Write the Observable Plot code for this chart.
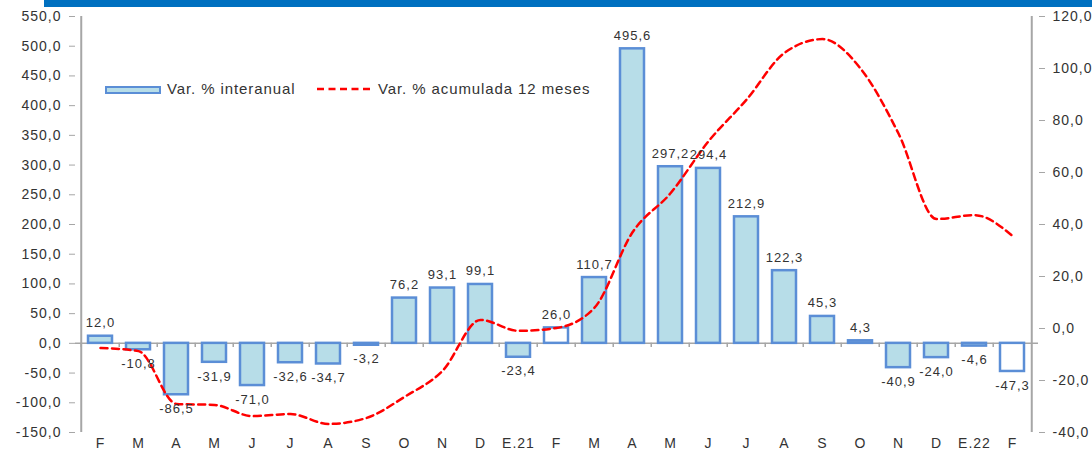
<!DOCTYPE html>
<html>
<head>
<meta charset="utf-8">
<script src="https://cdn.jsdelivr.net/npm/d3@7"></script>
<script src="https://cdn.jsdelivr.net/npm/@observablehq/plot@0.6"></script>
<style>
  body { margin: 0; background: #ffffff; }
  #wrap { position: relative; width: 1092px; height: 452px; overflow: hidden;
          font-family: "Liberation Sans", Arial, sans-serif; color: #333; }
  #topbar { position: absolute; left: 44px; top: 0; width: 1048px; height: 7px; background: #0070c0; }
  .lg { position: absolute; font-size: 15px; letter-spacing: 0.9px; line-height: 20px; top: 79px; white-space: nowrap; color: #333; }
  #sw1 { position: absolute; left: 105px; top: 86px; width: 52px; height: 4px; background: #b7dde8; border: 2px solid #5b8ed6; }
  #sw2 { position: absolute; left: 316px; top: 85px; }
  #chart { position: absolute; left: 0; top: 0; }
</style>
</head>
<body>
<div id="wrap">
  <div id="chart"></div>
  <div id="topbar"></div>
  <div id="sw1"></div>
  <div class="lg" style="left:167px">Var. % interanual</div>
  <svg id="sw2" width="56" height="8"><line x1="1" y1="4" x2="55" y2="4" stroke="#ff0000" stroke-width="2.5" stroke-dasharray="7,4.5"/></svg>
  <div class="lg" style="left:378px">Var. % acumulada 12 meses</div>
</div>
<script>
// ---- data ----
const months = ["F","M","A","M","J","J","A","S","O","N","D","E.21","F","M","A","M","J","J","A","S","O","N","D","E.22","F"];
const interanual = [12.0, -10.8, -86.5, -31.9, -71.0, -32.6, -34.7, -3.2, 76.2, 93.1, 99.1, -23.4, 26.0, 110.7, 495.6, 297.2, 294.4, 212.9, 122.3, 45.3, 4.3, -40.9, -24.0, -4.6, -47.3];
const acumulada12 = [-7.5, -8.7, -29.0, -29.4, -33.7, -32.9, -36.7, -34.4, -26.3, -16.3, 3.3, -0.9, 0.2, 8.0, 37.0, 52.0, 72.0, 88.0, 106.0, 111.3, 100.0, 75.0, 42.1, 43.6, 35.6];
const leftTicks = [-150, -100, -50, 0, 50, 100, 150, 200, 250, 300, 350, 400, 450, 500, 550];
const rightTicks = [-40, -20, 0, 20, 40, 60, 80, 100, 120];

// ---- layout / helpers ----
const W = 1092, H = 452, ml = 75, mr = 54, mt = 16, mb = 20;
const step = (W - ml - mr) / months.length;
const leftDom = [-150, 550], rightDom = [-40, 120];
const k = (leftDom[1] - leftDom[0]) / (rightDom[1] - rightDom[0]);
const toLeft = v => leftDom[0] + (v - rightDom[0]) * k;
const fromLeft = y => (y - leftDom[0]) / k + rightDom[0];
const fmt = v => { let r = Math.round(v * 10) / 10; if (Math.abs(r) < 1e-9) r = 0; return r.toFixed(1).replace(".", ","); };
const idx = months.map((_, i) => i);
const hollow = new Set([12, 24]);
const barData = idx.map(i => ({i, v: interanual[i]}));
const lineData = idx.map(i => ({i, v: toLeft(acumulada12[i])}));
const grey = "#a6a6a6";
const barStroke = "#5b8ed6";

const plot = Plot.plot({
  width: W, height: H,
  marginLeft: ml, marginRight: mr, marginTop: mt, marginBottom: mb,
  style: {fontFamily: "'Liberation Sans', Arial, sans-serif", fontSize: "13px", color: "#333", letterSpacing: "1px", background: "transparent", overflow: "visible"},
  x: {type: "band", domain: idx, paddingInner: 0.36, paddingOuter: 0.18},
  y: {domain: leftDom},
  marks: [
    Plot.ruleY([0], {stroke: grey, strokeWidth: 1.5}),
    Plot.ruleX(idx, {x: d => d, y1: 0, y2: -7, dx: -step / 2, stroke: grey, strokeWidth: 1.5}),
    Plot.ruleX([idx[0]], {x: d => d, y1: leftDom[0], y2: leftDom[1], dx: -step / 2, stroke: grey, strokeWidth: 2}),
    Plot.ruleX([idx[idx.length - 1]], {x: d => d, y1: leftDom[0], y2: leftDom[1], dx: step / 2, stroke: grey, strokeWidth: 2}),
    Plot.barY(barData.filter(d => !hollow.has(d.i)), {x: "i", y: "v", fill: "#b7dde8", stroke: barStroke, strokeWidth: 2.5}),
    Plot.barY(barData.filter(d => hollow.has(d.i)), {x: "i", y: "v", fill: "#ffffff", stroke: barStroke, strokeWidth: 2.5}),
    Plot.line(lineData, {x: "i", y: "v", stroke: "#ff0000", strokeWidth: 2.5, strokeDasharray: "7,4.5", curve: "monotone-x"}),
    Plot.text(barData.filter(d => d.v >= 0), {x: "i", y: "v", text: d => fmt(d.v), lineAnchor: "bottom", dy: -9, fontSize: 13, fill: "#333"}),
    Plot.text(barData.filter(d => d.v < 0), {x: "i", y: "v", text: d => fmt(d.v), lineAnchor: "top", dy: 9, fontSize: 13, fill: "#333"}),
    Plot.axisX({anchor: "bottom", tickSize: 0, tickPadding: 6, tickFormat: i => months[i], fontSize: 14, fill: "#333", label: null}),
    Plot.axisY(leftTicks, {anchor: "left", tickSize: 6, tickPadding: 8, tickFormat: fmt, fontSize: 14, stroke: grey, fill: "#333", label: null}),
    Plot.axisY(rightTicks.map(toLeft), {anchor: "right", tickSize: 6, tickPadding: 8, tickFormat: d => fmt(fromLeft(d)), fontSize: 14, stroke: grey, fill: "#333", label: null})
  ]
});
document.getElementById("chart").appendChild(plot);
</script>
</body>
</html>
